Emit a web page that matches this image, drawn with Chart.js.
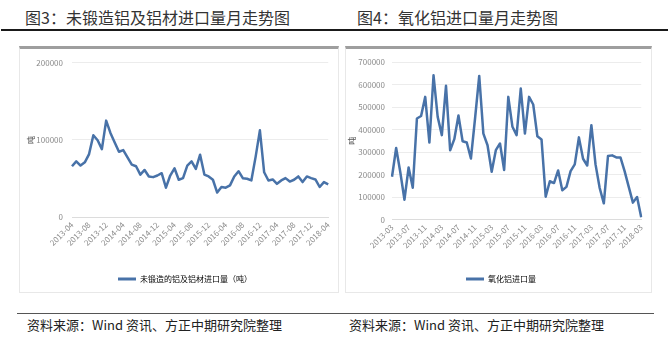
<!DOCTYPE html>
<html>
<head>
<meta charset="utf-8">
<script src="https://cdn.jsdelivr.net/npm/chart.js@4.4.1/dist/chart.umd.min.js"></script>
<style>
  html, body { margin: 0; padding: 0; background: #fff; }
  body { width: 672px; height: 338px; position: relative; overflow: hidden;
         font-family: "Noto Sans CJK SC", "Noto Sans", sans-serif; }
  .title { position: absolute; top: 8px; font-size: 16px; line-height: 19px; color: #333; white-space: nowrap; }
  .rule { position: absolute; left: 1px; top: 29px; width: 667px; height: 1.5px; background: #1a1a1a; }
  .panel { position: absolute; top: 46px; height: 247px; box-sizing: border-box;
           border: 1px solid #e8e8e8; border-top: 3px solid #9e9e9e; background: #fff; }
  canvas { position: absolute; }
  .foot-rule { position: absolute; left: 17px; top: 313px; width: 637px; height: 1px; background: #555; }
  .source { position: absolute; top: 316px; font-size: 13px; line-height: 17px; color: #222; white-space: nowrap; }
</style>
</head>
<body>
<div class="title" style="left:25px">图3：未锻造铝及铝材进口量月走势图</div>
<div class="title" style="left:357px">图4：氧化铝进口量月走势图</div>
<div class="rule"></div>

<div class="panel" style="left:19px; width:320px"></div>
<div class="panel" style="left:345px; width:307px"></div>
<canvas id="chartLeft" width="318" height="244" style="left:20px; top:49px"></canvas>
<canvas id="chartRight" width="305" height="244" style="left:346px; top:49px"></canvas>

<div class="foot-rule"></div>
<div class="source" style="left:27px">资料来源：Wind 资讯、方正中期研究院整理</div>
<div class="source" style="left:349px">资料来源：Wind 资讯、方正中期研究院整理</div>

<script>
// ---- data ----------------------------------------------------------
// 未锻造铝及铝材进口量（吨），2013-04 ~ 2018-04
const alumStart = [2013, 4];
const alumName = '未锻造的铝及铝材进口量（吨）';
const alumValues = [
    65800, 72200, 66700, 70900, 81600, 106000, 99600, 88000, 125000, 109000,
    96600, 84600, 86800, 77300, 68000, 65800, 55000, 61000, 52600, 51700,
    53800, 56800, 38000, 53800, 63200, 48300, 50400, 66700, 72200, 62400,
    80800, 55000, 52600, 48300, 31700, 38900, 38000, 41000, 52600, 59400,
    50400, 49600, 47400, 78000, 112400, 58000, 47400, 48700, 43000, 47400,
    50400, 46000, 48300, 52600, 45300, 52600, 50400, 48700, 38900, 45300, 42300
];
const alumTicks = [0, 200000, 100000]; // min, max, step

// 氧化铝进口量（吨），2013-03 ~ 2018-03
const aluminaStart = [2013, 3];
const aluminaName = '氧化铝进口量';
const aluminaValues = [
    190000, 318000, 210000, 88000, 231000, 141000, 449000, 460000, 545000, 342000,
    641000, 456000, 375000, 594000, 308000, 357000, 462000, 348000, 342000, 271000,
    450000, 638000, 382000, 330000, 212000, 308000, 338000, 220000, 545000, 412000,
    375000, 582000, 382000, 545000, 511000, 370000, 356000, 101000, 170000, 162000,
    218000, 130000, 145000, 215000, 245000, 365000, 270000, 240000, 419000, 245000,
    140000, 72000, 282000, 285000, 276000, 276000, 215000, 145000, 75000, 100000, 10000
];
const aluminaTicks = [0, 700000, 100000];

const LINE_COLOR = '#4872a8';
const LABEL_EVERY = 4; // show every 4th month on the x axis

// ---- helpers -------------------------------------------------------
function monthLabels(start, count) {
    const out = [];
    let [y, m] = start;
    for (let i = 0; i < count; i++) {
        out.push(y + '-' + String(m).padStart(2, '0'));
        m++;
        if (m > 12) { m = 1; y++; }
    }
    return out;
}

// nudge the legend sideways without touching the plot area
const shiftLegend = {
    id: 'shiftLegend',
    afterLayout(chart, args, opts) {
        if (chart.legend && opts.dx) {
            chart.legend.left += opts.dx;
            chart.legend.right += opts.dx;
        }
    }
};

Chart.defaults.font.family = '"Noto Sans CJK SC", "Noto Sans", sans-serif';
Chart.defaults.animation = false;

function makeChart(id, labels, values, name, ticks, box) {
    const [yMin, yMax, yStep] = ticks;
    return new Chart(document.getElementById(id), {
        type: 'line',
        data: {
            labels: labels,
            datasets: [{
                label: name,
                data: values,
                borderColor: LINE_COLOR,
                backgroundColor: LINE_COLOR,
                borderWidth: 2.5,
                borderJoinStyle: 'round',
                pointRadius: 0,
                tension: 0,
                fill: false
            }]
        },
        options: {
            responsive: false,
            maintainAspectRatio: false,
            events: [],
            layout: { padding: { top: box.top, right: box.right, bottom: 0, left: 0 } },
            scales: {
                x: {
                    offset: false,
                    grid: { display: false, drawTicks: false },
                    border: { display: true, color: '#dcdcdc' },
                    ticks: {
                        autoSkip: false,
                        minRotation: 45,
                        maxRotation: 45,
                        padding: 3,
                        color: '#8a8a8a',
                        font: { size: 8 },
                        callback: function (v, i) {
                            return i % LABEL_EVERY === 0 ? this.getLabelForValue(v) : null;
                        }
                    },
                    afterFit: s => { s.height = box.xHeight; }
                },
                y: {
                    min: yMin,
                    max: yMax,
                    grid: { color: '#ececec', drawTicks: false },
                    border: { display: false },
                    ticks: {
                        stepSize: yStep,
                        padding: box.tickPad,
                        color: '#8a8a8a',
                        font: { size: 8 },
                        callback: v => String(v)
                    },
                    title: {
                        display: true,
                        text: '吨',
                        color: '#555',
                        font: { size: 8 },
                        padding: { top: box.titlePad, bottom: 0 }
                    },
                    afterFit: s => { s.width = box.yWidth; }
                }
            },
            plugins: {
                tooltip: { enabled: false },
                shiftLegend: { dx: box.legendDx },
                legend: {
                    position: 'bottom',
                    labels: {
                        boxWidth: 18,
                        boxHeight: 3,
                        padding: 8,
                        color: '#555',
                        font: { size: 8 },
                        generateLabels: chart => chart.data.datasets.map((ds, i) => ({
                            text: ds.label,
                            fillStyle: ds.borderColor,
                            strokeStyle: ds.borderColor,
                            lineWidth: 0,
                            hidden: false,
                            datasetIndex: i
                        }))
                    }
                }
            }
        },
        plugins: [shiftLegend]
    });
}

makeChart('chartLeft', monthLabels(alumStart, alumValues.length), alumValues, alumName, alumTicks,
    { top: 12, right: 8, yWidth: 52, xHeight: 50, tickPad: 9, titlePad: 6, legendDx: 10 });

makeChart('chartRight', monthLabels(aluminaStart, aluminaValues.length), aluminaValues, aluminaName, aluminaTicks,
    { top: 13, right: 9, yWidth: 46, xHeight: 47.5, tickPad: 7, titlePad: 1, legendDx: 7 });
</script>
</body>
</html>
